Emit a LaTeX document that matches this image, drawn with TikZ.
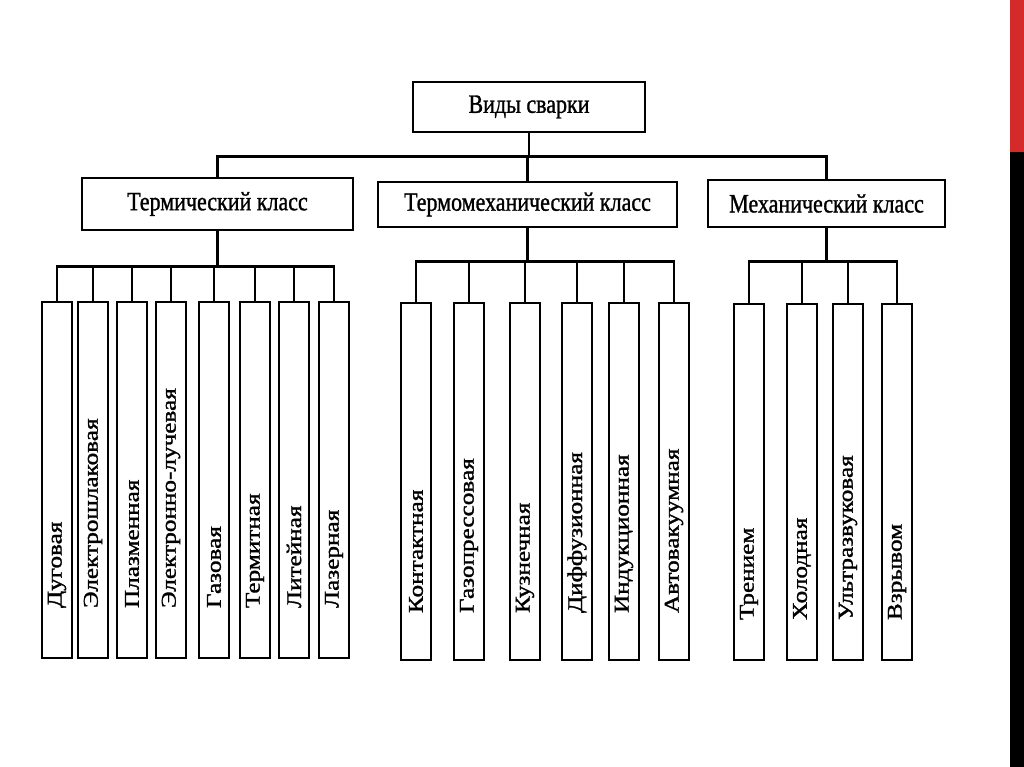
\documentclass[tikz,border=0pt]{standalone}
\usepackage{fontspec,graphicx}
\setmainfont{Liberation Serif}[FakeBold=1.2]
\usetikzlibrary{positioning}
\definecolor{barred}{RGB}{212,42,42}
\newcommand{\hlab}[1]{\scalebox{1}[1.2]{#1}}
\newcommand{\vlab}[1]{\scalebox{1.2}[1]{#1}}

\begin{document}
\begin{tikzpicture}[
  x=1pt,y=-1pt,
  line width=2.6pt,
  every node/.style={draw,inner sep=2pt},
  head/.style={font=\fontsize{22}{26}\selectfont},
  kind/.style={rotate=90,minimum height=30pt,inner ysep=0pt,align=left,font=\fontsize{21}{24}\selectfont},
  kindT/.style={kind,inner xsep=50pt,text width=256pt},
  kindM/.style={kind,inner xsep=47pt,text width=263pt},
  kindK/.style={kind,inner xsep=40pt,text width=276pt},
  ]
  \useasboundingbox (0,0) rectangle (1024,767);
  \fill[barred] (1010,0) rectangle (1024,152);
  \fill[black] (1010,152) rectangle (1024,767);

  \node[head, minimum width=232pt, minimum height=50pt] (top) at (529,107) {\hlab{Виды сварки}};
  \node[head, minimum width=271pt, minimum height=52pt] (therm) at (217.5,204) {\hlab{Термический класс}};
  \node[head, minimum width=299pt, minimum height=45pt] (thermo) at (527.5,204.5) {\hlab{Термомеханический класс}};
  \node[head, minimum width=237pt, minimum height=47pt] (mech) at (826.5,203.5) {\hlab{Механический класс}};

  \node[kindT] (t1) at (57,480) {\vlab{Дуговая}};
  \node[kindT] (t2) at (93,480) {\vlab{Электрошлаковая}};
  \node[kindT] (t3) at (132,480) {\vlab{Плазменная}};
  \node[kindT] (t4) at (171,480) {\vlab{Электронно-лучевая}};
  \node[kindT] (t5) at (214,480) {\vlab{Газовая}};
  \node[kindT] (t6) at (255,480) {\vlab{Термитная}};
  \node[kindT] (t7) at (294,480) {\vlab{Литейная}};
  \node[kindT] (t8) at (334,480) {\vlab{Лазерная}};

  \node[kindM] (m1) at (416,481.5) {\vlab{Контактная}};
  \node[kindM] (m2) at (469,481.5) {\vlab{Газопрессовая}};
  \node[kindM] (m3) at (525,481.5) {\vlab{Кузнечная}};
  \node[kindM] (m4) at (577,481.5) {\vlab{Диффузионная}};
  \node[kindM] (m5) at (624,481.5) {\vlab{Индукционная}};
  \node[kindM] (m6) at (674,481.5) {\vlab{Автовакуумная}};

  \node[kindK] (k1) at (749,482) {\vlab{Трением}};
  \node[kindK] (k2) at (802,482) {\vlab{Холодная}};
  \node[kindK] (k3) at (848,482) {\vlab{Ультразвуковая}};
  \node[kindK] (k4) at (897,482) {\vlab{Взрывом}};

  % tree lines
  \draw (top.south) -- ++(0,23) -| (therm.north);
  \draw (top.south) -- ++(0,23) -| (thermo.north);
  \draw (top.south) -- ++(0,23) -| (mech.north);

  \draw (therm.south) -- ++(0,35) -| (t1.east);
  \draw (therm.south) -- ++(0,35) -| (t2.east);
  \draw (therm.south) -- ++(0,35) -| (t3.east);
  \draw (therm.south) -- ++(0,35) -| (t4.east);
  \draw (therm.south) -- ++(0,35) -| (t5.east);
  \draw (therm.south) -- ++(0,35) -| (t6.east);
  \draw (therm.south) -- ++(0,35) -| (t7.east);
  \draw (therm.south) -- ++(0,35) -| (t8.east);

  \draw (thermo.south) -- ++(0,33) -| (m1.east);
  \draw (thermo.south) -- ++(0,33) -| (m2.east);
  \draw (thermo.south) -- ++(0,33) -| (m3.east);
  \draw (thermo.south) -- ++(0,33) -| (m4.east);
  \draw (thermo.south) -- ++(0,33) -| (m5.east);
  \draw (thermo.south) -- ++(0,33) -| (m6.east);

  \draw (mech.south) -- ++(0,33) -| (k1.east);
  \draw (mech.south) -- ++(0,33) -| (k2.east);
  \draw (mech.south) -- ++(0,33) -| (k3.east);
  \draw (mech.south) -- ++(0,33) -| (k4.east);

\end{tikzpicture}
\end{document}
